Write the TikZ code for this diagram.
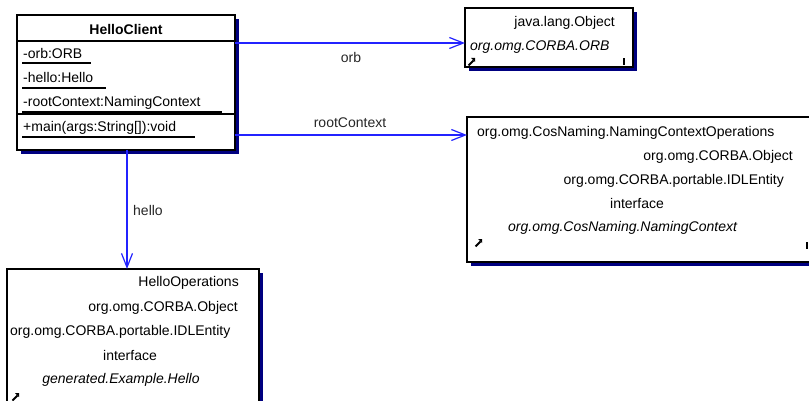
\documentclass[tikz,border=0pt]{standalone}
\usepackage{fontspec}
\setmainfont{Liberation Sans}
\usetikzlibrary{arrows.meta,calc,backgrounds}
\definecolor{shadownavy}{RGB}{0,0,128}
\definecolor{linkblue}{RGB}{35,35,255}
\tikzset{
  umlbox/.style={draw=black, line width=1.6pt, fill=white, inner sep=0pt, outer sep=0pt, anchor=north west},
  txt/.style={inner sep=0pt, yshift=-1pt, font=\fontsize{14}{16}\selectfont},
  itxt/.style={txt, font=\fontsize{14}{16}\selectfont\itshape},
  assoc/.style={draw=linkblue, line width=1.2pt, -{Straight Barb[length=14pt,width=11pt,line width=1.2pt]}},
  lbl/.style={txt, text=black!85},
  uline/.style={line width=1.3pt, black},
}
\newcommand{\boxshadow}[1]{\fill[shadownavy] ($(#1.north west)+(4,4)$) rectangle ($(#1.south east)+(4,4)$);}
\newcommand{\linkicon}[2]{%
  \fill[black] (#1,#2-4) -- (#1+4,#2-4) -- (#1+4,#2) -- cycle;
  \draw[black, line width=2pt] (#1-2.5,#2+3.5) -- (#1+2.5,#2-1.5);}
\newcommand{\cornermark}[2]{\fill[black] (#1-1.2,#2-3.5) rectangle (#1+1.2,#2+3.5);}
\begin{document}
\begin{tikzpicture}[x=1pt,y=-1pt]
\useasboundingbox (0,0) rectangle (809,401);
\clip (0,0) rectangle (809,401);

% ---- HelloClient class ----
\node[umlbox, minimum width=218pt, minimum height=135pt] (hc) at (17,15) {};
\draw[black, line width=1.3pt] (hc.west |- 0,41) -- (hc.east |- 0,41);
\draw[black, line width=1.3pt] (hc.west |- 0,114) -- (hc.east |- 0,114);
\node[txt, font=\fontsize{14}{16}\selectfont\bfseries, anchor=mid] (hcname) at (126,31) {HelloClient};
\node[txt, anchor=mid west] (a1) at (23,55) {-orb:ORB};
\node[txt, anchor=mid west] (a2) at (23,79) {-hello:Hello};
\node[txt, anchor=mid west] (a3) at (23,103) {-rootContext:NamingContext};
\node[txt, anchor=mid west] (m1) at (23,128) {+main(args:String[]):void};
\draw[uline] (22,63) -- (91,63);
\draw[uline] (22,88) -- (106,88);
\draw[uline] (22,112) -- (222,112);
\draw[uline] (22,137) -- (195,137);

% ---- java.lang.Object / ORB ----
\node[umlbox, minimum width=168pt, minimum height=59pt] (orb) at (465,8) {};
\node[txt, anchor=mid east] (o1) at (615,23) {java.lang.Object};
\node[itxt, anchor=mid west] (o2) at (470,47) {org.omg.CORBA.ORB};
\linkicon{471}{62}
\cornermark{624}{62}

% ---- NamingContext interface ----
\node[umlbox, minimum width=345pt, minimum height=145pt] (nc) at (467,117) {};
\node[txt, anchor=mid west] (n1) at (477,133) {org.omg.CosNaming.NamingContextOperations};
\node[txt, anchor=mid east] (n2) at (793,157) {org.omg.CORBA.Object};
\node[txt, anchor=mid east] (n3) at (784,181) {org.omg.CORBA.portable.IDLEntity};
\node[txt, anchor=mid] (n4) at (637,205) {interface};
\node[itxt, anchor=mid west] (n5) at (508,228) {org.omg.CosNaming.NamingContext};
\linkicon{478}{243}
\cornermark{807}{245}

% ---- Hello interface ----
\node[umlbox, minimum width=252pt, minimum height=150pt] (hello) at (7,269) {};
\node[txt, anchor=mid east] (h1) at (239,283) {HelloOperations};
\node[txt, anchor=mid east] (h2) at (238,308) {org.omg.CORBA.Object};
\node[txt, anchor=mid west] (h3) at (10,332) {org.omg.CORBA.portable.IDLEntity};
\node[txt, anchor=mid] (h4) at (130,357) {interface};
\node[itxt, anchor=mid] (h5) at (121,380) {generated.Example.Hello};
\linkicon{15}{397}

% ---- drop shadows behind the boxes ----
\begin{pgfonlayer}{background}
  \boxshadow{hc}
  \boxshadow{orb}
  \boxshadow{nc}
  \boxshadow{hello}
\end{pgfonlayer}

% ---- associations ----
\coordinate (orbY) at (0,43);
\coordinate (rcY) at (0,135);
\coordinate (helloX) at (127,0);
\draw[assoc] (hc.east |- orbY) -- (orb.west |- orbY);
\node[lbl, anchor=mid] (lorb) at (351,59) {orb};
\draw[assoc] (hc.east |- rcY) -- (nc.west |- rcY);
\node[lbl, anchor=mid] (lrc) at (350,124) {rootContext};
\draw[assoc] (hc.south -| helloX) -- (hello.north -| helloX);
\node[lbl, anchor=mid west] (lhello) at (133,212) {hello};
\end{tikzpicture}
\end{document}
